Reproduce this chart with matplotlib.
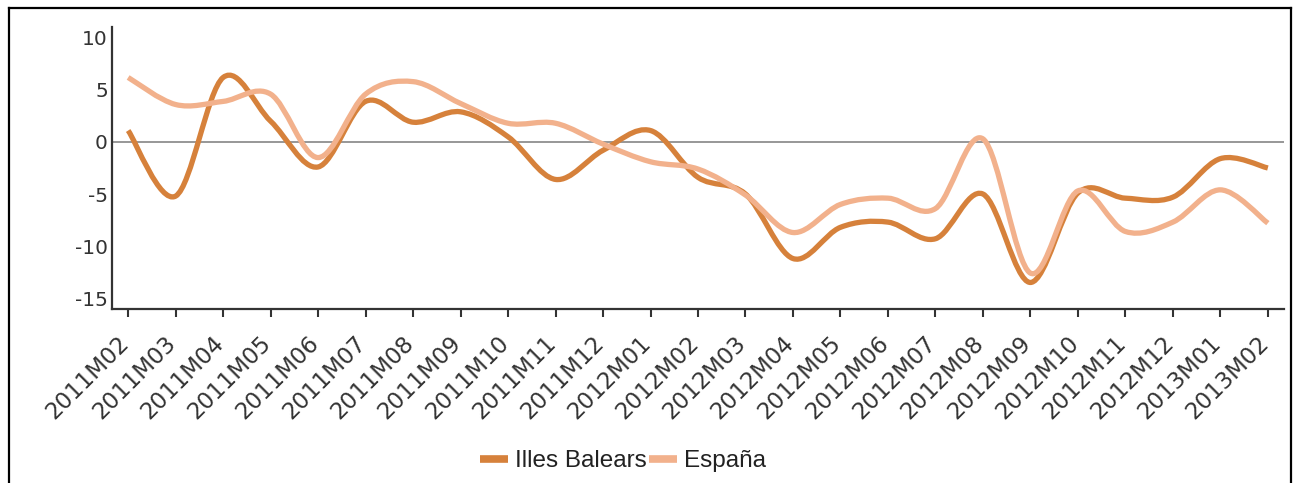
import matplotlib
matplotlib.use("Agg")
import matplotlib.pyplot as plt
from matplotlib.path import Path
from matplotlib.patches import PathPatch
from matplotlib.lines import Line2D
from matplotlib.transforms import ScaledTranslation
import numpy as np

plt.rcParams["font.family"] = ["DejaVu Sans"]

categories = ["2011M02", "2011M03", "2011M04", "2011M05", "2011M06", "2011M07",
              "2011M08", "2011M09", "2011M10", "2011M11", "2011M12", "2012M01",
              "2012M02", "2012M03", "2012M04", "2012M05", "2012M06", "2012M07",
              "2012M08", "2012M09", "2012M10", "2012M11", "2012M12", "2013M01",
              "2013M02"]
balears = [1.1, -5.2, 6.2, 2.0, -2.4, 3.9, 1.9, 2.9, 0.5, -3.6, -0.8, 1.1,
           -3.4, -5.0, -11.2, -8.2, -7.7, -9.3, -5.0, -13.5, -4.9, -5.4, -5.3,
           -1.6, -2.5]
espana = [6.2, 3.6, 3.9, 4.6, -1.5, 4.6, 5.8, 3.7, 1.8, 1.8, -0.2, -1.9,
          -2.6, -5.1, -8.7, -6.0, -5.4, -6.4, 0.3, -12.6, -4.7, -8.6, -7.7,
          -4.6, -7.8]
series_names = ["Illes Balears", "España"]
y_ticks = [10, 5, 0, -5, -10, -15]
y_tick_labels = ["10", "5", "0", "-5", "-10", "-15"]

col_bal = "#D6813B"
col_esp = "#F2B18C"


def smooth_path(xs, ys):
    """Catmull-Rom spline through the data points, drawn as cubic Bezier segments."""
    pts = np.column_stack([xs, ys]).astype(float)
    n = len(pts)
    verts = [tuple(pts[0])]
    codes = [Path.MOVETO]
    for i in range(n - 1):
        p0 = pts[max(i - 1, 0)]
        p1 = pts[i]
        p2 = pts[i + 1]
        p3 = pts[min(i + 2, n - 1)]
        c1 = p1 + (p2 - p0) / 6.0
        c2 = p2 - (p3 - p1) / 6.0
        verts += [tuple(c1), tuple(c2), tuple(p2)]
        codes += [Path.CURVE4] * 3
    return Path(verts, codes)


fig = plt.figure(figsize=(12.93, 4.83), dpi=100)
ax = fig.add_axes([112 / 1293, 1 - 309 / 483, (1284 - 112) / 1293, (309 - 27) / 483])

x = np.arange(len(categories))
ax.axhline(0, color="#8f8f8f", lw=1.3, zorder=1)

for vals, col, z in [(espana, col_esp, 3), (balears, col_bal, 2)]:
    patch = PathPatch(smooth_path(x, vals), facecolor="none", edgecolor=col,
                      lw=3.8, capstyle="butt", joinstyle="round", zorder=z)
    ax.add_patch(patch)

ax.set_xlim(-0.34, len(categories) - 1 + 0.34)
ax.set_ylim(-16.05, 11.05)

ax.tick_params(axis="y", length=0, pad=3, labelsize=14.5, labelcolor="#333333")
ax.tick_params(axis="x", length=5.5, width=1.5, color="#333333", direction="out",
               pad=11, labelsize=16.5, labelcolor="#333333")

ax.set_yticks(y_ticks)
ax.set_yticklabels(y_tick_labels)
ax.set_xticks(x)
ax.set_xticklabels(categories, rotation=45, ha="right", va="top",
                   rotation_mode="anchor")

shift = ScaledTranslation(-11 / 100, 0, fig.dpi_scale_trans)
for lab in ax.get_xticklabels():
    lab.set_transform(lab.get_transform() + shift)

for s in ["top", "right"]:
    ax.spines[s].set_visible(False)
for s in ["left", "bottom"]:
    ax.spines[s].set_color("#333333")
    ax.spines[s].set_linewidth(1.6)

handles = [Line2D([], [], color=col_bal, lw=5.5, solid_capstyle="butt"),
           Line2D([], [], color=col_esp, lw=5.5, solid_capstyle="butt")]
leg = fig.legend(handles, series_names, loc="center", bbox_to_anchor=(623 / 1293, 1 - 461 / 483),
                 ncol=2, frameon=False, handlelength=1.15, handletextpad=0.28,
                 columnspacing=0.1,
                 prop={"family": ["Liberation Sans", "DejaVu Sans"], "size": 17.5})
for t in leg.get_texts():
    t.set_color("#222222")

# figure frame
fw = 1.6
fig.add_artist(Line2D([9 / 1293, 9 / 1293], [0, 1 - 8 / 483], transform=fig.transFigure,
                      color="black", lw=fw))
fig.add_artist(Line2D([9 / 1293, 1291 / 1293], [1 - 8 / 483, 1 - 8 / 483],
                      transform=fig.transFigure, color="black", lw=fw))
fig.add_artist(Line2D([1291 / 1293, 1291 / 1293], [0, 1 - 8 / 483], transform=fig.transFigure,
                      color="black", lw=fw))

fig.savefig("out.png", dpi=100)
